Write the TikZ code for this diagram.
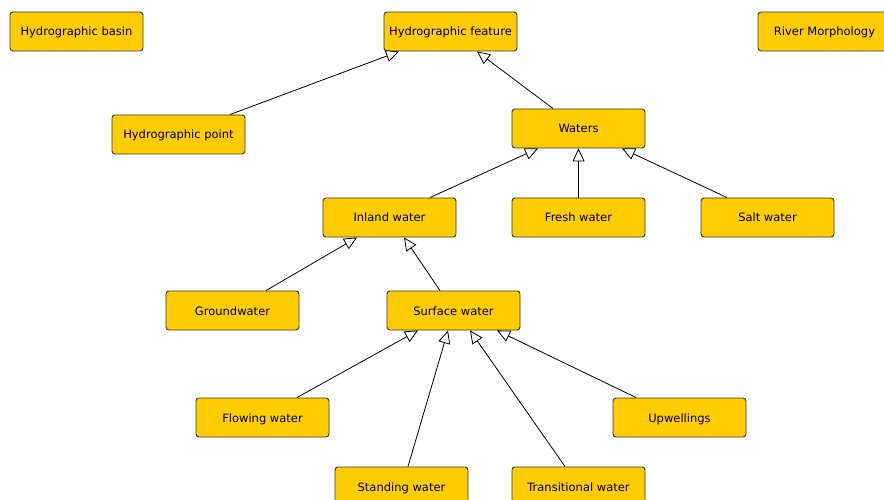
\documentclass[tikz,border=0pt]{standalone}
\usepackage{fontspec}
\setmainfont{DejaVu Sans}
\usetikzlibrary{arrows.meta}
\definecolor{boxfill}{HTML}{FFCC00}
\definecolor{boxline}{HTML}{3A3A3A}
\tikzset{
  cls/.style={draw=boxline, line width=0.9pt, fill=boxfill, rounded corners=3pt,
    minimum width=133pt, minimum height=39pt, inner sep=0pt,
    text height=11pt, text depth=2pt,
    font=\fontsize{11.5}{13}\selectfont, text=black},
  isa/.style={draw=black, line width=0.8pt,
    -{Triangle[open, length=13pt, width=12pt, fill=white]}}
}
\begin{document}
\begin{tikzpicture}[x=1pt, y=-1pt]
  \useasboundingbox (0,0) rectangle (884,500);
  \clip (0,0) rectangle (884,500);

  % class boxes
  \node[cls] (basin)   at (76.5,31.5)  {Hydrographic basin};
  \node[cls] (feature) at (450.5,31.5) {Hydrographic feature};
  \node[cls] (morph)   at (824.5,31.5) {River Morphology};
  \node[cls] (point)   at (178.5,134.5) {Hydrographic point};
  \node[cls] (waters)  at (578.5,128.5) {Waters};
  \node[cls] (inland)  at (389.5,217.5) {Inland water};
  \node[cls] (fresh)   at (578.5,217.5) {Fresh water};
  \node[cls] (salt)    at (767.5,217.5) {Salt water};
  \node[cls] (ground)  at (232.5,310.5) {Groundwater};
  \node[cls] (surface) at (453.5,310.5) {Surface water};
  \node[cls] (flowing) at (262.5,417.5) {Flowing water};
  \node[cls] (upwell)  at (679.5,417.5) {Upwellings};
  \node[cls] (standing) at (401.5,486.5) {Standing water};
  \node[cls] (trans)   at (578.5,486.5) {Transitional water};

  % generalisation links
  \draw[isa] ([xshift=51.5pt]point.north)   -- ([xshift=-51.5pt]feature.south);
  \draw[isa] ([xshift=-25.5pt]waters.north) -- ([xshift=26.5pt]feature.south);
  \draw[isa] ([xshift=40.5pt]inland.north)  -- ([xshift=-40.5pt]waters.south);
  \draw[isa] (fresh.north)                  -- (waters.south);
  \draw[isa] ([xshift=-40.5pt]salt.north)   -- ([xshift=43.5pt]waters.south);
  \draw[isa] ([xshift=33.5pt]ground.north)  -- ([xshift=-32.5pt]inland.south);
  \draw[isa] ([xshift=-13.5pt]surface.north) -- ([xshift=14.5pt]inland.south);
  \draw[isa] ([xshift=34.5pt]flowing.north) -- ([xshift=-35.5pt]surface.south);
  \draw[isa] ([xshift=6.5pt]standing.north) -- ([xshift=-5.5pt]surface.south);
  \draw[isa] ([xshift=-13.5pt]trans.north)  -- ([xshift=16.5pt]surface.south);
  \draw[isa] ([xshift=-43.5pt]upwell.north) -- ([xshift=43.5pt]surface.south);
\end{tikzpicture}
\end{document}
